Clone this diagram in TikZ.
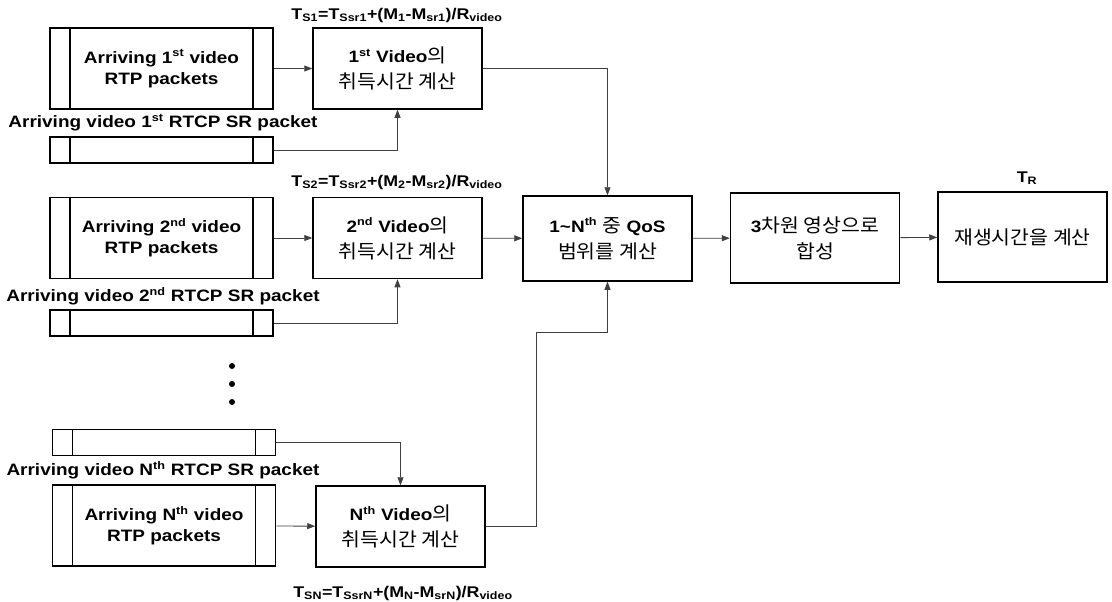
\documentclass[tikz,border=0pt]{standalone}
\usepackage{fontspec}
\setmainfont{Liberation Sans}[FakeStretch=1.15]
\newfontfamily\krfont{Noto Sans CJK KR}[FakeStretch=1.08, Scale=1.15]
\newcommand{\kr}[1]{{\krfont\mdseries #1}}
\newcommand{\sups}[1]{\textsuperscript{\fontsize{11}{11}\selectfont #1}}
\usetikzlibrary{arrows.meta,positioning}

\begin{document}
\begin{tikzpicture}[
    x=1pt, y=-1pt,
    pkt/.style={rectangle, draw, line width=1.5pt, minimum width=223, minimum height=81, inner sep=0pt, align=center,
        font=\fontsize{16.5}{21}\selectfont\bfseries,
        path picture={\draw[line width=1.2pt]
            ([xshift=20]path picture bounding box.north west) -- ([xshift=20]path picture bounding box.south west)
            ([xshift=-20]path picture bounding box.north east) -- ([xshift=-20]path picture bounding box.south east);}},
    bar/.style={pkt, minimum height=26},
    calc/.style={rectangle, draw, line width=1.5pt, minimum width=169, minimum height=81, align=center,
        font=\fontsize{16.5}{26}\selectfont\bfseries},
    lbl/.style={font=\fontsize{16.5}{20}\selectfont\bfseries},
    eqn/.style={font=\fontsize{15.5}{18}\selectfont\bfseries},
    conn/.style={draw=black!75, line width=0.9pt, -{Triangle[length=8pt,width=6pt]}}
]
    \useasboundingbox (0,0) rectangle (1112,602);

    % first video
    \node[eqn] (eq1) at (397,15) {T\textsubscript{S1}=T\textsubscript{Ssr1}+(M\textsubscript{1}-M\textsubscript{sr1})/R\textsubscript{video}};
    \node[pkt] (rtp1) at (161.5,68.5) {Arriving 1\sups{st} video\\RTP packets};
    \node[lbl] (srlbl1) at (163,123) {Arriving video 1\sups{st} RTCP SR packet};
    \node[bar] (sr1) at (161.5,150) {};
    \node[calc] (vid1) at (397.5,68.5) {1\sups{st} Video\kr{의}\\\kr{취득시간 계산}};

    % second video
    \node[eqn] (eq2) at (397,182) {T\textsubscript{S2}=T\textsubscript{Ssr2}+(M\textsubscript{2}-M\textsubscript{sr2})/R\textsubscript{video}};
    \node[pkt] (rtp2) at (161.5,238) {Arriving 2\sups{nd} video\\RTP packets};
    \node[lbl] (srlbl2) at (163,296) {Arriving video 2\sups{nd} RTCP SR packet};
    \node[bar] (sr2) at (161.5,323) {};
    \node[calc] (vid2) at (397.5,238) {2\sups{nd} Video\kr{의}\\\kr{취득시간 계산}};

    % dots
    \foreach \y in {366,384,402}
        \fill (232,\y) circle (3);

    % N-th video
    \node[bar] (srN) at (164,442.5) {};
    \node[lbl] (srlblN) at (163,470) {Arriving video N\sups{th} RTCP SR packet};
    \node[pkt] (rtpN) at (164,525.5) {Arriving N\sups{th} video\\RTP packets};
    \node[calc] (vidN) at (400.5,526.5) {N\sups{th} Video\kr{의}\\\kr{취득시간 계산}};
    \node[eqn] (eqN) at (403,593) {T\textsubscript{SN}=T\textsubscript{SsrN}+(M\textsubscript{N}-M\textsubscript{srN})/R\textsubscript{video}};

    % right part
    \node[calc, minimum height=85] (qos) at (607.5,238.5) {1\textasciitilde N\sups{th} \kr{중} QoS\\\kr{범위를 계산}};
    \node[calc, minimum height=90] (syn) at (815,238) {3\kr{차원 영상으로}\\\kr{합성}};
    \node[calc, minimum height=90] (play) at (1022.5,237) {\kr{재생시간을 계산}};
    \node[eqn] (tr) at (1027,178) {T\textsubscript{R}};

    \coordinate (jN) at (536,332);

    % connectors
    \draw[conn] (rtp1) -- (vid1);
    \draw[conn] (sr1.east) -| (vid1.south);
    \draw[conn] (rtp2) -- (vid2);
    \draw[conn] (sr2.east) -| (vid2.south);
    \draw[conn] (rtpN) -- (vidN);
    \draw[conn] (srN.east) -| (vidN.north);
    \draw[conn] (vid1.east) -| (qos.north);
    \draw[conn] (vid2) -- (qos);
    \draw[conn] (vidN.east) -| (jN) -| (qos.south);
    \draw[conn] (qos) -- (syn);
    \draw[conn] (syn) -- (play);
\end{tikzpicture}
\end{document}
